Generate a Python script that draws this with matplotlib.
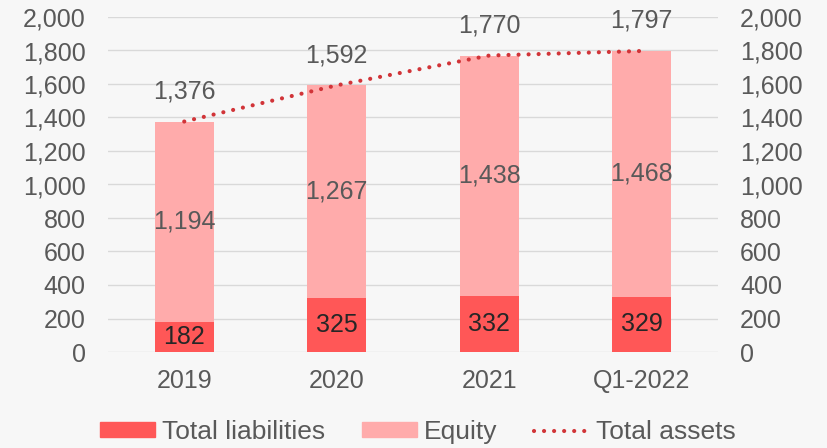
import matplotlib.pyplot as plt
import numpy as np
from matplotlib.patches import Patch
from matplotlib.lines import Line2D

plt.rcParams['font.family'] = ['Liberation Sans', 'DejaVu Sans']

categories = ['2019', '2020', '2021', 'Q1-2022']
liabilities = [182, 325, 332, 329]
equity = [1194, 1267, 1438, 1468]
total_assets = [1376, 1592, 1770, 1797]

c_liab = '#ff5757'
c_eq = '#ffabab'
c_line = '#d13438'
c_grid = '#d9d9d9'
c_text = '#595959'
fs = 18
dots = (0, (0.01, 2.4))

fig = plt.figure(figsize=(8.27, 4.48), dpi=100, facecolor='#f7f7f7')
ax = fig.add_axes([108/827, 1-352/448, 610/827, 335/448])
ax.set_facecolor('none')

x = np.arange(len(categories))
w = 0.39
ax.bar(x, liabilities, w, color=c_liab, zorder=2)
ax.bar(x, equity, w, bottom=liabilities, color=c_eq, zorder=2)
ax.plot(x, total_assets, color=c_line, linestyle=dots, linewidth=3,
        dash_capstyle='round', zorder=3)

for i in range(len(categories)):
    ax.text(x[i], liabilities[i]/2, f'{liabilities[i]:,}', ha='center', va='center',
            fontsize=fs, color='#262626', zorder=4)
    ax.text(x[i], liabilities[i] + equity[i]/2, f'{equity[i]:,}', ha='center', va='center',
            fontsize=fs, color=c_text, zorder=4)
    ax.text(x[i], total_assets[i] + 180, f'{total_assets[i]:,}', ha='center', va='center',
            fontsize=fs, color=c_text, zorder=4)

ax.set_xlim(-0.5, 3.5)
ax.set_ylim(0, 2000)
ax.set_yticks(range(0, 2001, 200))
ax.yaxis.set_major_formatter(plt.FuncFormatter(lambda v, p: f'{int(v):,}'))
ax.grid(axis='y', color=c_grid, linewidth=1, zorder=0)
ax.set_xticks(x)
ax.set_xticklabels(categories)
for s in ax.spines.values():
    s.set_visible(False)
ax.tick_params(axis='both', length=0, labelsize=fs, labelcolor=c_text)
ax.tick_params(axis='x', pad=12)
ax.tick_params(axis='y', pad=16)

ax2 = ax.twinx()
ax2.set_ylim(0, 2000)
ax2.set_yticks(range(0, 2001, 200))
ax2.yaxis.set_major_formatter(plt.FuncFormatter(lambda v, p: f'{int(v):,}'))
for s in ax2.spines.values():
    s.set_visible(False)
ax2.tick_params(axis='y', length=0, labelsize=fs, labelcolor=c_text, pad=16)

handles = [Patch(color=c_liab, label='Total liabilities'),
           Patch(color=c_eq, label='Equity'),
           Line2D([0], [0], color=c_line, linestyle=dots, linewidth=3,
                  dash_capstyle='round', label='Total assets')]
fig.legend(handles=handles, loc='center', bbox_to_anchor=(418/827, 1-432/448), ncol=3,
           frameon=False, fontsize=19, labelcolor=c_text, handlelength=2.1,
           handleheight=0.5, columnspacing=1.4, handletextpad=0.25)

fig.savefig('out.png', dpi=100, facecolor=fig.get_facecolor())
